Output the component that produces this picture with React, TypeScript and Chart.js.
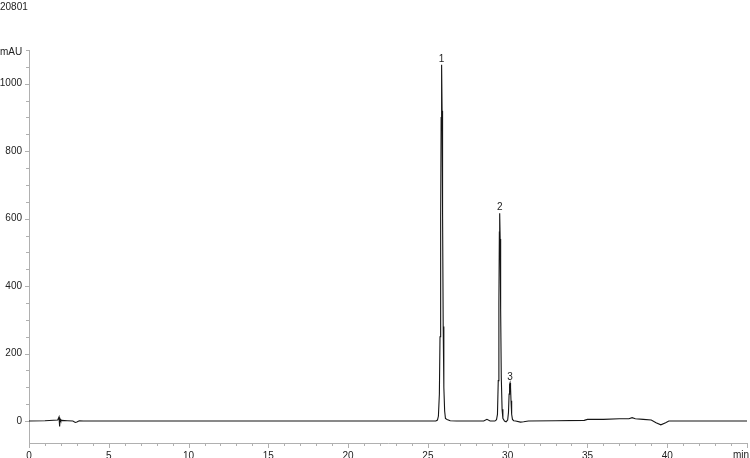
import { useEffect, useRef } from "react";
import { Chart, registerables, type ChartConfiguration, type Plugin } from "chart.js";

Chart.register(...registerables);

// retention time (min) and signal (mAU)
const timeMin = [
  0, 1.0, 1.8, 1.88, 1.92, 1.95, 1.99, 2.05, 2.4, 2.75, 2.9, 3.0, 3.15, 3.4, 10, 20, 25.5,
  25.6, 25.66, 25.72, 25.76, 25.8, 25.83, 25.86, 25.89, 25.92, 25.96, 26.0, 26.05, 26.1, 26.2, 26.4, 26.8,
  28.5, 28.7, 28.9, 29.2, 29.3, 29.36, 29.41, 29.45, 29.48, 29.5, 29.53, 29.56, 29.6, 29.65, 29.7, 29.8, 29.9,
  30.0, 30.05, 30.09, 30.12, 30.15, 30.18, 30.21, 30.25, 30.3, 30.38, 30.5, 30.8, 31.0, 31.3,
  33, 34.8, 35.0, 36.0, 37.0, 37.6, 37.8, 38.0, 38.5, 39.0, 39.3, 39.6, 39.9, 40.1, 42, 45,
];
const absorbance = [
  0, 1, 3, 12, -16, 6, 1, 2, 1, 0, -4, -3, 1, 0, 0, 0, 0,
  3, 15, 80, 250, 600, 900, 1056, 920, 620, 280, 100, 30, 8, 5, 1, 0,
  0, 5, 0, 0, 4, 20, 120, 350, 560, 616, 540, 330, 130, 35, 8, 0, -2,
  3, 25, 80, 108, 113, 100, 60, 20, 5, 1, 0, -3, -2, 0,
  1, 2, 5, 5, 7, 7, 10, 7, 5, 3, -5, -11, -5, 0, 0, 0,
];

const peakNames = ["1", "2", "3"];
const peakTimes = [25.86, 29.5, 30.15];
const peakHeights = [1056, 616, 113];

const xMajorStep = 5;
const yMajorStep = 200;

const FONT_FAMILY = '"Liberation Sans", Arial, sans-serif';
const FONT = `10px ${FONT_FAMILY}`;
const TEXT = "#222";
const AXIS = "#b0b0b0";

// texts and tick marks (major ticks longer than minor ones)
const annotations: Plugin<"line"> = {
  id: "annotations",
  afterDraw(chart) {
    const { ctx, chartArea } = chart;
    const xs = chart.scales.x;
    const ys = chart.scales.y;
    ctx.save();

    ctx.strokeStyle = AXIS;
    ctx.lineWidth = 1;
    ctx.beginPath();
    xs.ticks.forEach((t) => {
      const px = Math.round(xs.getPixelForValue(t.value)) + 0.5;
      const len = t.value % xMajorStep === 0 ? 5 : 3;
      ctx.moveTo(px, chartArea.bottom);
      ctx.lineTo(px, chartArea.bottom + len);
    });
    ys.ticks.forEach((t) => {
      const py = Math.round(ys.getPixelForValue(t.value)) + 0.5;
      const len = t.value % yMajorStep === 0 ? 4 : 3;
      ctx.moveTo(chartArea.left - len, py);
      ctx.lineTo(chartArea.left, py);
    });
    ctx.stroke();

    ctx.font = FONT;
    ctx.fillStyle = TEXT;
    ctx.textBaseline = "alphabetic";
    ctx.textAlign = "left";
    ctx.fillText("20801", 0, 10);
    ctx.fillText("mAU", 0, 55);
    ctx.textBaseline = "top";
    ctx.fillText("min", 733, 450);
    ctx.textAlign = "center";
    ctx.textBaseline = "alphabetic";
    peakNames.forEach((name, i) => {
      ctx.fillText(name, xs.getPixelForValue(peakTimes[i]), ys.getPixelForValue(peakHeights[i]) - 3);
    });
    ctx.restore();
  },
};

const App = () => {
  const canvasRef = useRef<HTMLCanvasElement | null>(null);
  const chartRef = useRef<Chart | null>(null);

  useEffect(() => {
    if (!canvasRef.current) return;
    const config: ChartConfiguration<"line"> = {
      type: "line",
      data: {
        datasets: [
          {
            data: timeMin.map((t, i) => ({ x: t, y: absorbance[i] })),
            borderColor: "#151515",
            borderWidth: 1.1,
            pointRadius: 0,
            tension: 0,
            fill: false,
          },
        ],
      },
      options: {
        animation: false,
        responsive: true,
        maintainAspectRatio: false,
        layout: { padding: { top: 50, right: 2, left: 0, bottom: 0 } },
        plugins: {
          legend: { display: false },
          tooltip: { enabled: false },
        },
        scales: {
          x: {
            type: "linear",
            min: 0,
            max: 45,
            grid: { drawOnChartArea: false, drawTicks: true, tickLength: 4, tickColor: "rgba(0,0,0,0)" },
            border: { display: true, color: AXIS },
            ticks: {
              stepSize: 1,
              autoSkip: false,
              maxRotation: 0,
              padding: 3,
              color: TEXT,
              font: { family: FONT_FAMILY, size: 10 },
              callback: (v) => {
                const n = Number(v);
                return n % xMajorStep === 0 && n < 45 ? String(n) : "";
              },
            },
            afterFit: (scale) => {
              scale.height = 15;
            },
          },
          y: {
            type: "linear",
            min: -65,
            max: 1100,
            grid: { drawOnChartArea: false, drawTicks: false },
            border: { display: true, color: AXIS },
            ticks: {
              stepSize: 50,
              autoSkip: false,
              padding: 7,
              color: TEXT,
              font: { family: FONT_FAMILY, size: 10 },
              callback: (v) => {
                const n = Number(v);
                return n % yMajorStep === 0 && n <= 1000 ? String(n) : "";
              },
            },
            afterBuildTicks: (scale) => {
              scale.ticks = scale.ticks.filter((t) => t.value % 50 === 0);
            },
            afterFit: (scale) => {
              scale.width = 29;
            },
          },
        },
      },
      plugins: [annotations],
    };
    chartRef.current = new Chart(canvasRef.current, config);
    return () => {
      chartRef.current?.destroy();
    };
  }, []);

  return (
    <div style={{ position: "absolute", left: 0, top: 0, width: 750, height: 458, background: "#fff" }}>
      <canvas ref={canvasRef}></canvas>
    </div>
  );
};

export default App;
